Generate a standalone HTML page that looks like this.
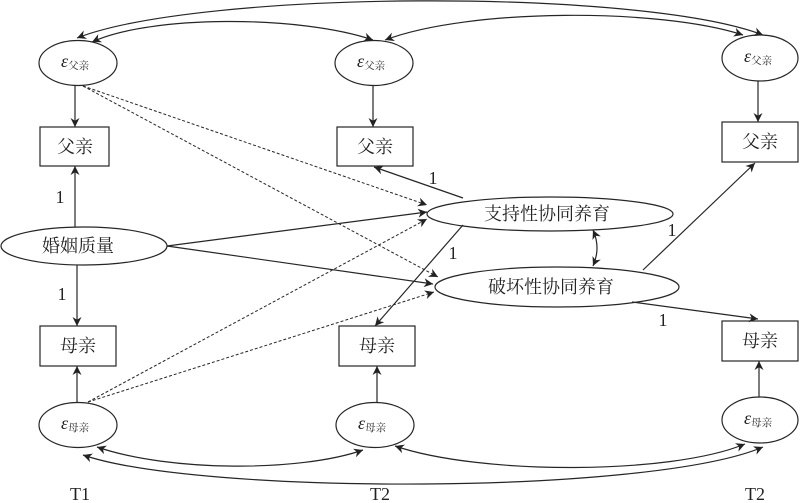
<!DOCTYPE html>
<html><head><meta charset="utf-8"><style>
html,body{margin:0;padding:0;background:#fff;}
svg{display:block;}
.cj{font-family:"Liberation Serif","Noto Serif CJK SC",serif;font-size:18px;fill:#222;}
.n{font-family:"Liberation Serif",serif;font-size:18px;fill:#222;}
.e{font-family:"Liberation Serif","Noto Serif CJK SC",serif;fill:#222;}
</style></head><body>
<svg width="800" height="503" viewBox="0 0 800 503" xmlns="http://www.w3.org/2000/svg">
<defs>
<marker id="a" viewBox="0 0 10 10" refX="10" refY="5" markerWidth="11" markerHeight="9" markerUnits="userSpaceOnUse" orient="auto-start-reverse">
<path d="M0,0 L10,5 L0,10 L3,5 z" fill="#222"/>
</marker>
</defs>
<g fill="none" stroke="#262626" stroke-width="1.2">
<path d="M77,38 C200,-10 640,-12 763,35" marker-start="url(#a)" marker-end="url(#a)"/>
<path d="M92,42 C150,15 300,15 373,40" marker-start="url(#a)" marker-end="url(#a)"/>
<path d="M385,40 C470,8 660,8 743,35" marker-start="url(#a)" marker-end="url(#a)"/>
<path d="M97,447 C170,472 300,472 363,450" marker-start="url(#a)" marker-end="url(#a)"/>
<path d="M395,446 C480,475 670,475 745,444" marker-start="url(#a)" marker-end="url(#a)"/>
<path d="M83,455 C200,495 650,495 763,447" marker-start="url(#a)" marker-end="url(#a)"/>

<ellipse cx="78" cy="63" rx="39" ry="22.5"/>
<ellipse cx="374" cy="63" rx="39" ry="22.5"/>
<ellipse cx="760" cy="58" rx="38" ry="23"/>
<ellipse cx="84" cy="246" rx="83" ry="19"/>
<ellipse cx="550" cy="214" rx="123" ry="17"/>
<ellipse cx="557" cy="287" rx="122" ry="20"/>
<ellipse cx="78" cy="425" rx="39" ry="22.5"/>
<ellipse cx="375" cy="425" rx="39" ry="22.5"/>
<ellipse cx="760" cy="420" rx="38" ry="23"/>

<rect x="40" y="127" width="69" height="39"/>
<rect x="337" y="127" width="76" height="39"/>
<rect x="722" y="122" width="76" height="40"/>
<rect x="40" y="326" width="76" height="40"/>
<rect x="339" y="326" width="76" height="40"/>
<rect x="722" y="321" width="76" height="40"/>

<line x1="75" y1="86" x2="75" y2="127" marker-end="url(#a)"/>
<line x1="373" y1="86" x2="373" y2="127" marker-end="url(#a)"/>
<line x1="758" y1="81" x2="758" y2="122" marker-end="url(#a)"/>
<line x1="75" y1="227" x2="75" y2="166" marker-end="url(#a)"/>
<line x1="77" y1="265" x2="77" y2="326" marker-end="url(#a)"/>
<line x1="77" y1="402" x2="77" y2="366" marker-end="url(#a)"/>
<line x1="377" y1="402" x2="377" y2="366" marker-end="url(#a)"/>
<line x1="759" y1="397" x2="759" y2="361" marker-end="url(#a)"/>

<line x1="463" y1="198" x2="374" y2="167" marker-end="url(#a)"/>
<line x1="463" y1="225" x2="375" y2="326" marker-end="url(#a)"/>
<line x1="643" y1="270" x2="755" y2="163" marker-end="url(#a)"/>
<line x1="632" y1="302" x2="758" y2="319" marker-end="url(#a)"/>

<line x1="167" y1="246" x2="427" y2="212" marker-end="url(#a)"/>
<line x1="167" y1="246" x2="433" y2="284" marker-end="url(#a)"/>
<g stroke-dasharray="3,2" stroke-width="1">
<line x1="83" y1="86" x2="427" y2="205" marker-end="url(#a)"/>
<line x1="83" y1="86" x2="438" y2="277" marker-end="url(#a)"/>
<line x1="88" y1="402" x2="427" y2="219" marker-end="url(#a)"/>
<line x1="88" y1="402" x2="434" y2="292" marker-end="url(#a)"/>
</g>
<path d="M593,230 Q601,248 593,266" marker-start="url(#a)" marker-end="url(#a)"/>
</g>

<g class="cj" text-anchor="middle">
<text x="75" y="153">父亲</text>
<text x="375" y="153">父亲</text>
<text x="760" y="148">父亲</text>
<text x="78" y="352">母亲</text>
<text x="377" y="352">母亲</text>
<text x="760" y="347">母亲</text>
<text x="78" y="252">婚姻质量</text>
<text x="547" y="220">支持性协同养育</text>
<text x="551" y="293">破坏性协同养育</text>
</g>
<g class="e">
<text x="61" y="67"><tspan font-style="italic" font-size="18">ε</tspan><tspan font-size="10.5" dy="2">父亲</tspan></text>
<text x="357" y="67"><tspan font-style="italic" font-size="18">ε</tspan><tspan font-size="10.5" dy="2">父亲</tspan></text>
<text x="744" y="62"><tspan font-style="italic" font-size="18">ε</tspan><tspan font-size="10.5" dy="2">父亲</tspan></text>
<text x="61" y="429"><tspan font-style="italic" font-size="18">ε</tspan><tspan font-size="10.5" dy="2">母亲</tspan></text>
<text x="358" y="429"><tspan font-style="italic" font-size="18">ε</tspan><tspan font-size="10.5" dy="2">母亲</tspan></text>
<text x="744" y="424"><tspan font-style="italic" font-size="18">ε</tspan><tspan font-size="10.5" dy="2">母亲</tspan></text>
</g>
<g class="n" text-anchor="middle">
<text x="60" y="203">1</text>
<text x="62" y="300">1</text>
<text x="433" y="184">1</text>
<text x="453" y="259">1</text>
<text x="672" y="236">1</text>
<text x="663" y="326">1</text>
</g>
<g class="n" text-anchor="middle">
<text x="80" y="500">T1</text>
<text x="380" y="500">T2</text>
<text x="755" y="500">T2</text>
</g>
</svg>
</body></html>
